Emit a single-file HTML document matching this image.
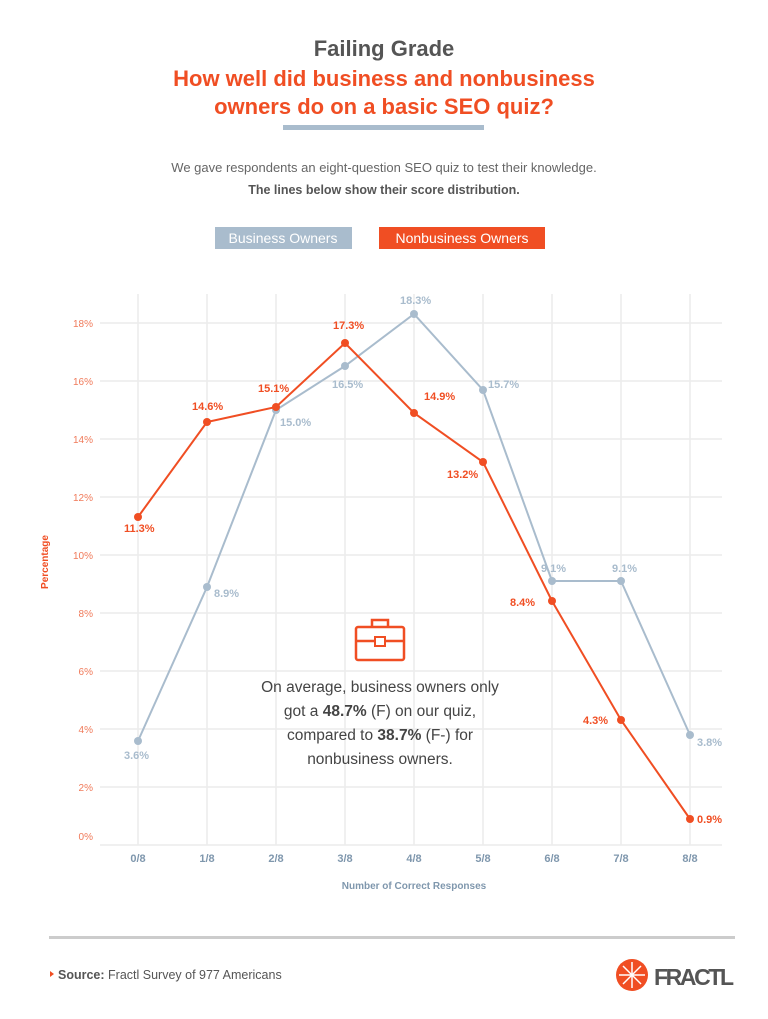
<!DOCTYPE html>
<html><head><meta charset="utf-8"><style>
body{margin:0;width:768px;height:1014px;background:#fff;overflow:hidden;font-family:"Liberation Sans",sans-serif}
</style></head><body>
<svg width="768" height="1014" xmlns="http://www.w3.org/2000/svg" font-family="Liberation Sans, sans-serif">
<text x="384" y="56" text-anchor="middle" font-size="22" font-weight="bold" fill="#555">Failing Grade</text>
<text x="384" y="86" text-anchor="middle" font-size="22" font-weight="bold" fill="#f04e23">How well did business and nonbusiness</text>
<text x="384" y="114" text-anchor="middle" font-size="22" font-weight="bold" fill="#f04e23">owners do on a basic SEO quiz?</text>
<rect x="283" y="125" width="201" height="5" fill="#a9bccd"/>
<text x="384" y="172" text-anchor="middle" font-size="13" fill="#666">We gave respondents an eight-question SEO quiz to test their knowledge.</text>
<text x="384" y="194" text-anchor="middle" font-size="12.5" font-weight="bold" fill="#555">The lines below show their score distribution.</text>
<rect x="215" y="227" width="137" height="22" fill="#a9bccd"/>
<text x="283" y="243" text-anchor="middle" font-size="14" fill="#fff">Business Owners</text>
<rect x="379" y="227" width="166" height="22" fill="#f04e23"/>
<text x="462" y="243" text-anchor="middle" font-size="14" fill="#fff">Nonbusiness Owners</text>
<g stroke="#ececec" stroke-width="1.5">
<line x1="100" y1="845" x2="722" y2="845"/><line x1="100" y1="787" x2="722" y2="787"/><line x1="100" y1="729" x2="722" y2="729"/><line x1="100" y1="671" x2="722" y2="671"/><line x1="100" y1="613" x2="722" y2="613"/><line x1="100" y1="555" x2="722" y2="555"/><line x1="100" y1="497" x2="722" y2="497"/><line x1="100" y1="439" x2="722" y2="439"/><line x1="100" y1="381" x2="722" y2="381"/><line x1="100" y1="323" x2="722" y2="323"/>
<line x1="138" y1="294" x2="138" y2="845"/><line x1="207" y1="294" x2="207" y2="845"/><line x1="276" y1="294" x2="276" y2="845"/><line x1="345" y1="294" x2="345" y2="845"/><line x1="414" y1="294" x2="414" y2="845"/><line x1="483" y1="294" x2="483" y2="845"/><line x1="552" y1="294" x2="552" y2="845"/><line x1="621" y1="294" x2="621" y2="845"/><line x1="690" y1="294" x2="690" y2="845"/>
</g>
<g font-size="10" fill="#f07a5a" text-anchor="end">
<text x="93" y="840">0%</text><text x="93" y="791">2%</text><text x="93" y="733">4%</text><text x="93" y="675">6%</text><text x="93" y="617">8%</text><text x="93" y="559">10%</text><text x="93" y="501">12%</text><text x="93" y="443">14%</text><text x="93" y="385">16%</text><text x="93" y="327">18%</text>
</g>
<text transform="translate(48,562) rotate(-90)" text-anchor="middle" font-size="10" font-weight="bold" fill="#f04e23">Percentage</text>
<g font-size="11" font-weight="bold" fill="#7f97ad" text-anchor="middle">
<text x="138" y="862">0/8</text><text x="207" y="862">1/8</text><text x="276" y="862">2/8</text><text x="345" y="862">3/8</text><text x="414" y="862">4/8</text><text x="483" y="862">5/8</text><text x="552" y="862">6/8</text><text x="621" y="862">7/8</text><text x="690" y="862">8/8</text>
</g>
<text x="414" y="889" text-anchor="middle" font-size="10" font-weight="bold" fill="#7f97ad">Number of Correct Responses</text>
<polyline fill="none" stroke="#a9bccd" stroke-width="2" points="138,741 207,587 276,410 345,366 414,314 483,390 552,581 621,581 690,735"/>
<g fill="#a9bccd"><circle cx="138" cy="741" r="4"/><circle cx="207" cy="587" r="4"/><circle cx="276" cy="410" r="4"/><circle cx="345" cy="366" r="4"/><circle cx="414" cy="314" r="4"/><circle cx="483" cy="390" r="4"/><circle cx="552" cy="581" r="4"/><circle cx="621" cy="581" r="4"/><circle cx="690" cy="735" r="4"/></g>
<polyline fill="none" stroke="#f04e23" stroke-width="2" points="138,517 207,422 276,407 345,343 414,413 483,462 552,601 621,720 690,819"/>
<g fill="#f04e23"><circle cx="138" cy="517" r="4"/><circle cx="207" cy="422" r="4"/><circle cx="276" cy="407" r="4"/><circle cx="345" cy="343" r="4"/><circle cx="414" cy="413" r="4"/><circle cx="483" cy="462" r="4"/><circle cx="552" cy="601" r="4"/><circle cx="621" cy="720" r="4"/><circle cx="690" cy="819" r="4"/></g>
<g font-size="11" font-weight="bold" fill="#a9bccd">
<text x="124" y="759">3.6%</text><text x="214" y="597">8.9%</text><text x="280" y="426">15.0%</text><text x="332" y="388">16.5%</text><text x="400" y="304">18.3%</text><text x="488" y="388">15.7%</text><text x="541" y="572">9.1%</text><text x="612" y="572">9.1%</text><text x="697" y="746">3.8%</text>
</g>
<g font-size="11" font-weight="bold" fill="#f04e23">
<text x="124" y="532">11.3%</text><text x="192" y="410">14.6%</text><text x="258" y="392">15.1%</text><text x="333" y="329">17.3%</text><text x="424" y="400">14.9%</text><text x="447" y="478">13.2%</text><text x="510" y="606">8.4%</text><text x="583" y="724">4.3%</text><text x="697" y="823">0.9%</text>
</g>
<g fill="none" stroke="#f04e23" stroke-width="2.5">
<rect x="356" y="627" width="48" height="33" rx="2"/>
<path d="M372 627 v-7 h16 v7"/><path d="M356 641 h48"/>
</g>
<rect x="375" y="637" width="10" height="9" fill="#fff" stroke="#f04e23" stroke-width="2"/>
<g font-size="15.5" fill="#444" text-anchor="middle">
<text x="380" y="692">On average, business owners only</text>
<text x="380" y="716">got a <tspan font-weight="bold">48.7%</tspan> (F) on our quiz,</text>
<text x="380" y="740">compared to <tspan font-weight="bold">38.7%</tspan> (F-) for</text>
<text x="380" y="764">nonbusiness owners.</text>
</g>
<rect x="49" y="936" width="686" height="3" fill="#ccc"/>
<path d="M50 971 l4 3 -4 3z" fill="#f04e23"/>
<text x="58" y="979" font-size="12.5" fill="#555"><tspan font-weight="bold">Source:</tspan> Fractl Survey of 977 Americans</text>
<circle cx="632" cy="975" r="16" fill="#f04e23"/>
<g stroke="#fff" stroke-width="1.5"><line x1="632" y1="962" x2="632" y2="988"/><line x1="619" y1="975" x2="645" y2="975"/><line x1="623" y1="966" x2="641" y2="984"/><line x1="641" y1="966" x2="623" y2="984"/></g>
<text x="654" y="985" font-size="23" font-weight="bold" fill="#555" textLength="80">FRACTL</text>
</svg>
</body></html>
